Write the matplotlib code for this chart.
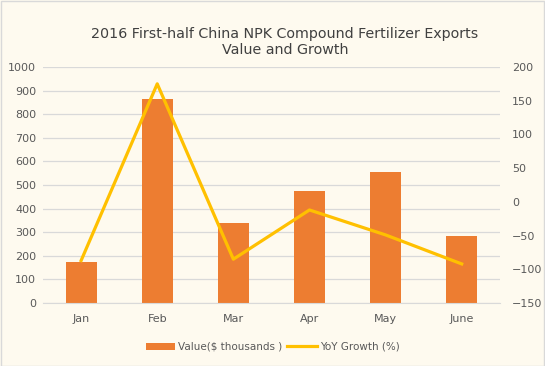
import matplotlib
matplotlib.use("Agg")
import matplotlib.pyplot as plt
import numpy as np

months = ["Jan", "Feb", "Mar", "Apr", "May", "June"]
values = [175, 866, 340, 476, 556, 285]
growth = [-87, 175, -85, -12, -49, -92]

bg = "#FEFAEF"
fig = plt.figure(figsize=(5.45, 3.66), dpi=100, facecolor=bg)
ax = fig.add_axes([0.079, 0.172, 0.838, 0.645], facecolor=bg)
ax2 = ax.twinx()

x = np.arange(len(months))
b = ax.bar(x, values, width=0.41, color="#ED7D31", zorder=2, label="Value($ thousands )")
l, = ax2.plot(x, growth, color="#FFC000", lw=2.3, zorder=3, label="YoY Growth (%)")

ax.set_xlim(-0.5, len(months) - 0.5)
ax.set_ylim(0, 1000)
ax.set_yticks(range(0, 1001, 100))
ax2.set_ylim(-150, 200)
ax2.set_yticks(range(-150, 201, 50))
ax.set_xticks(x)
ax.set_xticklabels(months)

ax.grid(axis="y", color="#D9D9D9", lw=0.9, zorder=0)
ax.set_axisbelow(True)
for a in (ax, ax2):
    for s in a.spines.values():
        s.set_visible(False)
    a.tick_params(length=0, labelsize=8, labelcolor="#595959")
ax.spines["bottom"].set_visible(True)
ax.spines["bottom"].set_color("#D9D9D9")
ax.tick_params(axis="y", pad=5)
ax.tick_params(axis="x", pad=8)
ax2.tick_params(axis="y", pad=9)

fig.text(0.523, 0.885, "2016 First-half China NPK Compound Fertilizer Exports\nValue and Growth",
         ha="center", va="center", fontsize=10.3, color="#404040", linespacing=1.15)

fig.legend(handles=[b, l], loc="center", bbox_to_anchor=(0.50, 0.052), ncol=2,
           frameon=False, fontsize=7.5, labelcolor="#595959", handlelength=2.8,
           columnspacing=0.5, handletextpad=0.3)

border = plt.Rectangle((0.001, 0.001), 0.997, 0.996, transform=fig.transFigure,
                       fill=False, edgecolor="#D9D9D9", lw=1)
fig.patches.append(border)

fig.savefig("out.png", dpi=100, facecolor=bg)
